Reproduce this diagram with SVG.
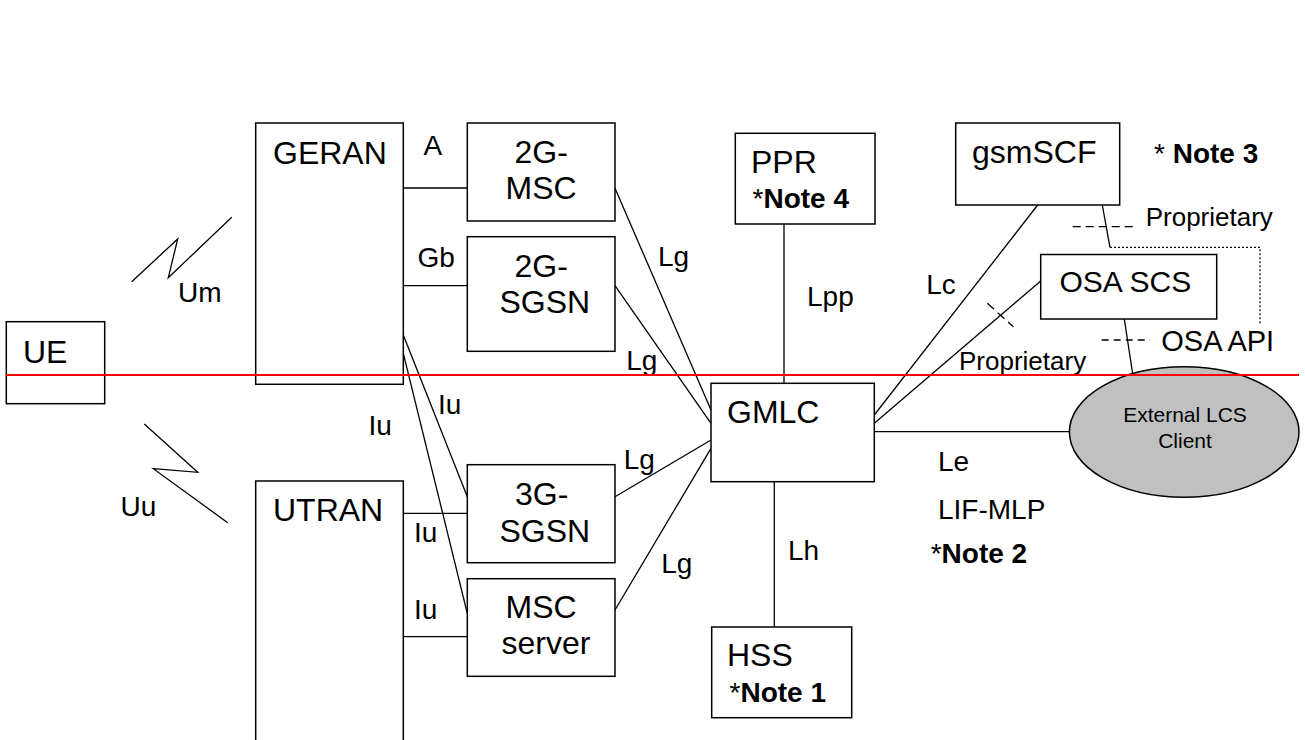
<svg xmlns="http://www.w3.org/2000/svg" width="1305" height="740" viewBox="0 0 1305 740">
<style>
.box{fill:#fff;stroke:#000;stroke-width:1.5}
.ln{fill:none;stroke:#000;stroke-width:1.3}
.dash{fill:none;stroke:#000;stroke-width:1.3;stroke-dasharray:8,5}
.dot{fill:none;stroke:#000;stroke-width:1.2;stroke-dasharray:2,2}
text{font-family:"Liberation Sans",Arial,sans-serif;fill:#000}
.n{font-size:32px}
.l{font-size:28px}
.b{font-weight:bold}
</style>
<rect width="1305" height="740" fill="#fff"/>
<g id="connectors">
<line class="ln" x1="403.3" y1="188" x2="467.3" y2="188"/>
<line class="ln" x1="403.3" y1="285.7" x2="467.3" y2="285.7"/>
<line class="ln" x1="403.3" y1="335" x2="467.3" y2="496.7"/>
<line class="ln" x1="403.3" y1="353.3" x2="467.3" y2="613.3"/>
<line class="ln" x1="403.3" y1="513.3" x2="467.3" y2="513.3"/>
<line class="ln" x1="400" y1="636.7" x2="467.3" y2="636.7"/>
<line class="ln" x1="615" y1="188.3" x2="711" y2="410"/>
<line class="ln" x1="615" y1="285.7" x2="711" y2="423.3"/>
<line class="ln" x1="615" y1="496.7" x2="711" y2="440"/>
<line class="ln" x1="615" y1="610" x2="711" y2="448.3"/>
<line class="ln" x1="784" y1="224" x2="784" y2="383.3"/>
<line class="ln" x1="774.3" y1="481.7" x2="774.3" y2="627"/>
<line class="ln" x1="874.3" y1="415" x2="1037.7" y2="205"/>
<line class="ln" x1="874.3" y1="423.3" x2="1040.7" y2="281"/>
<line class="ln" x1="874.3" y1="431.7" x2="1069.3" y2="431.7"/>
<line class="ln" x1="1102.3" y1="205" x2="1110" y2="247.3"/>
<polyline class="dot" points="1110,247.3 1260,247.3 1260,323.3"/>
<line class="ln" x1="1124.3" y1="319" x2="1132.7" y2="374"/>
<line class="dash" x1="1072.7" y1="226.7" x2="1135" y2="226.7"/>
<line class="dash" x1="1101.7" y1="340" x2="1150" y2="340" style="stroke-dasharray:7,5"/>
<line class="dash" x1="987.3" y1="303.3" x2="1013.3" y2="326.7" style="stroke-dasharray:9,5"/>
<polyline class="ln" points="131.7,281.7 177.7,239 168.3,277.7 231.7,217.3"/>
<polyline class="ln" points="144.3,424 197.7,472.3 153.3,468.7 227.7,522.7"/>
</g>
<g id="UE"><rect class="box" x="6.3" y="321.7" width="98.4" height="82"/><text class="n" x="23" y="363">UE</text></g>
<g id="GERAN"><rect class="box" x="255.7" y="123" width="147.6" height="261.3"/><text class="n" x="273" y="164">GERAN</text></g>
<g id="UTRAN"><rect class="box" x="255.7" y="481" width="147.6" height="300"/><text class="n" x="273" y="521">UTRAN</text></g>
<g id="MSC2G"><rect class="box" x="467.3" y="123" width="147.7" height="98"/><text class="n" x="514.5" y="163.3">2G-</text><text class="n" x="505.5" y="199.3">MSC</text></g>
<g id="SGSN2G"><rect class="box" x="467.3" y="236.7" width="147.7" height="114.6"/><text class="n" x="514.5" y="276.7">2G-</text><text class="n" x="499.5" y="313.3">SGSN</text></g>
<g id="SGSN3G"><rect class="box" x="467.3" y="464.7" width="147.7" height="98"/><text class="n" x="515" y="505">3G-</text><text class="n" x="499.5" y="541.7">SGSN</text></g>
<g id="MSCserver"><rect class="box" x="467.3" y="578.7" width="147.7" height="97.6"/><text class="n" x="505.5" y="618.3">MSC</text><text class="n" x="501.5" y="654">server</text></g>
<g id="PPR"><rect class="box" x="735.3" y="133.3" width="139.7" height="90.7"/><text class="n" x="751" y="172.7">PPR</text><text class="l" x="752.5" y="207.7">*<tspan class="b">Note 4</tspan></text></g>
<g id="GMLC"><rect class="box" x="711" y="383.3" width="163.3" height="98.4"/><text class="n" x="727" y="423.3">GMLC</text></g>
<g id="HSS"><rect class="box" x="711.7" y="627" width="140" height="90.7"/><text class="n" x="727" y="666">HSS</text><text class="l" x="729.5" y="701.7">*<tspan class="b">Note 1</tspan></text></g>
<g id="gsmSCF"><rect class="box" x="955.7" y="123" width="164" height="82"/><text class="n" x="972" y="163.3">gsmSCF</text></g>
<g id="OSASCS"><rect class="box" x="1040.7" y="254.5" width="176" height="64.5"/><text x="1059.5" y="292.3" style="font-size:30px">OSA SCS</text></g>
<g id="ExternalLCSClient"><ellipse cx="1184.2" cy="432" rx="114.8" ry="65.3" fill="#c0c0c0" stroke="#000" stroke-width="1.5"/><text x="1185" y="422.3" text-anchor="middle" style="font-size:21px">External LCS</text><text x="1185" y="448.3" text-anchor="middle" style="font-size:21px">Client</text></g>
<g id="labels">
<text class="l" x="423.5" y="155">A</text>
<text class="l" x="417.5" y="266.7">Gb</text>
<text class="l" x="178" y="302">Um</text>
<text class="l" x="120.5" y="515.7">Uu</text>
<text class="l" x="368.5" y="435">Iu</text>
<text class="l" x="438" y="414">Iu</text>
<text class="l" x="414" y="542.3">Iu</text>
<text class="l" x="414" y="619">Iu</text>
<text class="l" x="658" y="266">Lg</text>
<text class="l" x="626.3" y="370">Lg</text>
<text class="l" x="623.7" y="469.3">Lg</text>
<text class="l" x="661.3" y="573.3">Lg</text>
<text class="l" x="807" y="306">Lpp</text>
<text class="l" x="788" y="560">Lh</text>
<text class="l" x="926.3" y="294">Lc</text>
<text x="1145.7" y="226" style="font-size:26px">Proprietary</text>
<text x="959" y="370" style="font-size:26px">Proprietary</text>
<text x="1161.3" y="350.7" style="font-size:29px">OSA API</text>
<text class="l" x="938" y="470.7">Le</text>
<text class="l" x="938" y="519">LIF-MLP</text>
<text class="l" x="930.7" y="563.3">*<tspan class="b">Note 2</tspan></text>
<text class="l" x="1154" y="163.3">* <tspan class="b">Note 3</tspan></text>
</g>
<line x1="6" y1="375" x2="1299" y2="375" stroke="#ff0000" stroke-width="2"/>
</svg>
